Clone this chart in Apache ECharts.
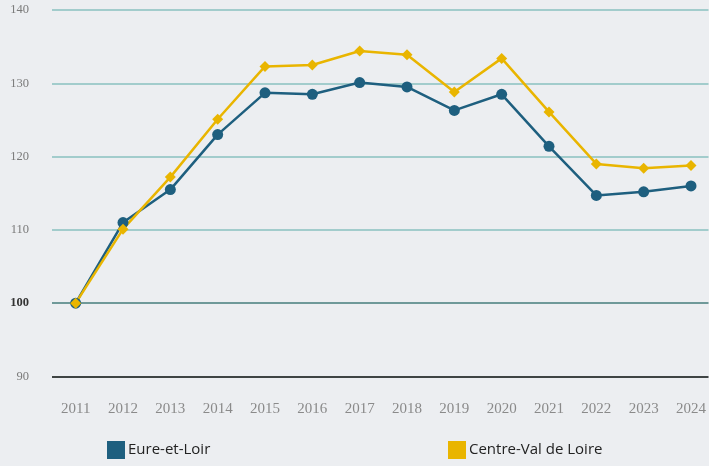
<!DOCTYPE html>
<html>
<head>
<meta charset="utf-8">
<script src="https://cdn.jsdelivr.net/npm/echarts@6/dist/echarts.min.js"></script>
<style>
html,body{margin:0;padding:0;background:#eceef1;}
#c{width:709px;height:466px;}
</style>
</head>
<body>
<div id="c"></div>
<script>
const years = [2011,2012,2013,2014,2015,2016,2017,2018,2019,2020,2021,2022,2023,2024];
const eureEtLoir = [100,111.0,115.5,123.0,128.7,128.5,130.1,129.5,126.3,128.5,121.4,114.7,115.2,116.0];
const centreValDeLoire = [100,110.1,117.2,125.1,132.3,132.5,134.4,133.9,128.8,133.4,126.1,119.0,118.4,118.8];
const yTicks = [90,100,110,120,130,140];
const seriesNames = ['Eure-et-Loir','Centre-Val de Loire'];

const chart = echarts.init(document.getElementById('c'));
chart.setOption({
  backgroundColor:'#eceef1',
  animation:false,
  grid:{left:52,right:0,top:10,bottom:89.5},
  xAxis:{
    type:'value',min:2010.5,max:2024.37,
    axisLine:{show:false},axisTick:{show:false},splitLine:{show:false},
    axisLabel:{customValues:years,formatter:v=>String(v),color:'#8a8a8a',
      fontFamily:'Liberation Serif',fontSize:15,margin:25}
  },
  yAxis:{
    type:'value',min:yTicks[0],max:yTicks[yTicks.length-1],interval:10,
    axisLine:{show:false},axisTick:{show:false},
    splitLine:{lineStyle:{width:2,color:['#3f4444','#6f9999','#a2cccc','#a2cccc','#a2cccc','#a2cccc']}},
    axisLabel:{margin:23,fontFamily:'Liberation Serif',fontSize:12.5,color:'#7a7a7a',
      formatter:v=>v===100?'{b|100}':String(v),
      rich:{b:{fontFamily:'Liberation Serif',fontSize:12.5,fontWeight:'bold',color:'#333'}}}
  },
  legend:[
    {data:[seriesNames[0]],left:107,top:441,padding:0,icon:'rect',itemWidth:18,itemHeight:18,itemGap:0,
      textStyle:{fontFamily:'Open Sans',fontSize:15,color:'#222',padding:[0,0,0,-2]}},
    {data:[seriesNames[1]],left:448,top:441,padding:0,icon:'rect',itemWidth:18,itemHeight:18,itemGap:0,
      textStyle:{fontFamily:'Open Sans',fontSize:15,color:'#222',padding:[0,0,0,-2]}}
  ],
  series:[
    {name:seriesNames[0],type:'line',data:years.map((y,i)=>[y,eureEtLoir[i]]),
      color:'#1e5f7f',symbol:'circle',symbolSize:11,lineStyle:{width:2.5},itemStyle:{color:'#1e5f7f'}},
    {name:seriesNames[1],type:'line',data:years.map((y,i)=>[y,centreValDeLoire[i]]),
      color:'#e9b500',symbol:'diamond',symbolSize:11,lineStyle:{width:2.5},itemStyle:{color:'#e9b500'}}
  ]
});
</script>
</body>
</html>
